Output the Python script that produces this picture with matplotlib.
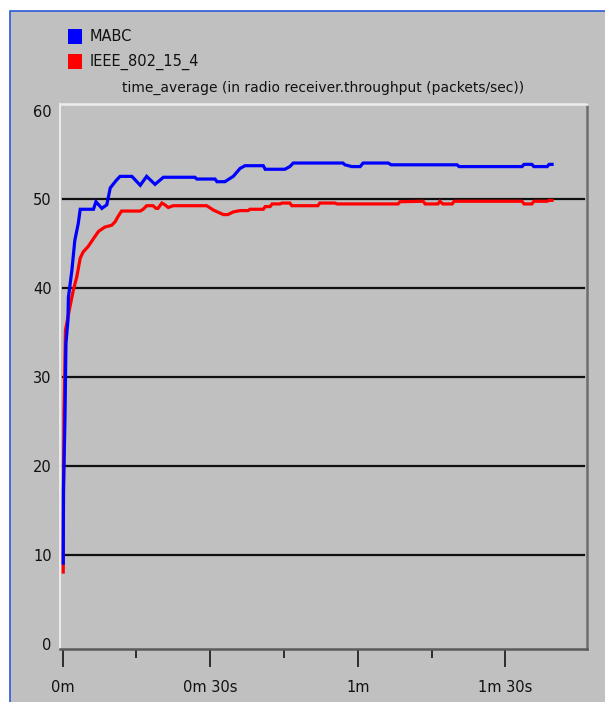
import matplotlib
matplotlib.use("Agg")
import matplotlib.pyplot as plt
from matplotlib.patches import Rectangle

# Time (s) and throughput (packets/sec) for each protocol
mabc_t = [0.15, 0.2, 0.5, 0.7, 1.1, 1.2, 1.9, 2.5, 3.2, 3.6, 6.3, 6.8, 8.0, 9.0,
          9.7, 11.0, 11.7, 14.1, 15.8, 17.1, 18.8, 20.5, 26.9, 27.3, 31.0, 31.4,
          33.0, 34.7, 36.1, 37.1, 40.8, 41.2, 45.2, 46.2, 46.9, 57.0, 57.4, 58.8,
          60.5, 61.1, 66.2, 66.8, 80.2, 80.6, 93.4, 93.8, 95.4, 95.8, 98.5, 98.9,
          99.5]
mabc_v = [9.1, 17.3, 25.5, 33.8, 36.4, 39.0, 42.0, 45.4, 47.3, 48.9, 48.9, 49.75,
          49.0, 49.4, 51.3, 52.2, 52.6, 52.6, 51.6, 52.6, 51.7, 52.5, 52.5, 52.3,
          52.3, 52.0, 52.0, 52.6, 53.5, 53.8, 53.8, 53.4, 53.4, 53.7, 54.1, 54.1,
          53.9, 53.7, 53.7, 54.1, 54.1, 53.9, 53.9, 53.7, 53.7, 53.95, 53.95, 53.7,
          53.7, 53.95, 53.95]

ieee_t = [0.15, 0.2, 0.3, 0.6, 1.5, 2.2, 2.9, 3.6, 4.2, 5.2, 6.3, 7.3, 8.6, 10.0,
          10.7, 11.3, 12.0, 15.8, 16.4, 17.1, 18.4, 19.0, 19.4, 20.2, 20.8, 21.5,
          22.5, 29.3, 30.7, 32.7, 33.6, 34.7, 36.1, 37.7, 38.1, 40.8, 41.2, 42.2,
          42.6, 44.2, 44.6, 46.2, 46.6, 51.9, 52.3, 55.4, 55.8, 68.2, 68.6, 73.3,
          73.7, 76.3, 76.7, 77.3, 79.2, 79.6, 93.4, 93.8, 95.4, 95.8, 98.5, 98.9,
          99.5]
ieee_v = [8.1, 17.0, 26.0, 35.3, 37.9, 39.8, 41.3, 43.4, 44.1, 44.7, 45.6, 46.4,
          46.9, 47.1, 47.5, 48.1, 48.7, 48.7, 48.9, 49.3, 49.3, 49.0, 49.0, 49.6,
          49.4, 49.1, 49.3, 49.3, 48.8, 48.3, 48.3, 48.6, 48.75, 48.75, 48.9, 48.9,
          49.2, 49.2, 49.5, 49.5, 49.6, 49.6, 49.3, 49.3, 49.6, 49.6, 49.5, 49.5,
          49.75, 49.8, 49.5, 49.5, 49.8, 49.5, 49.5, 49.8, 49.8, 49.5, 49.5, 49.8,
          49.8, 49.9, 49.9]

series_names = ["MABC", "IEEE_802_15_4"]
series_colors = ["#0000ff", "#ff0000"]
title_text = "time_average (in radio receiver.throughput (packets/sec))"

y_ticks = [0, 10, 20, 30, 40, 50, 60]
x_major = [0, 30, 60, 90]
x_major_labels = ["0m", "0m 30s", "1m", "1m 30s"]
x_minor = [15, 45, 75]

plt.rcParams["font.family"] = ["DejaVu Sans"]

W, H = 605, 702
fig = plt.figure(figsize=(W / 100, H / 100), dpi=100)
fig.patch.set_facecolor("white")

# window panel with blue frame on the left and top, behind everything else
fig.patches.append(Rectangle((9.5 / W, -0.5), 2.0, (H - 10.5) / H + 0.5,
                             transform=fig.transFigure, facecolor="#c0c0c0",
                             edgecolor="#2a5bd7", linewidth=1.2, zorder=-10))

ax = fig.add_axes([60 / W, (H - 649) / H, 526.5 / W, 545 / H])
ax.set_zorder(1)
ax.set_facecolor("#c0c0c0")
ax.set_xlim(-0.51, 106.5)
ax.set_ylim(-0.56, 60.74)

for y in y_ticks[1:-1]:
    ax.axhline(y, xmin=0.005, xmax=0.995, color="#101010", lw=1.6, zorder=1)

ax.plot(ieee_t, ieee_v, color=series_colors[1], lw=2.3, zorder=3,
        solid_joinstyle="miter")
ax.plot(mabc_t, mabc_v, color=series_colors[0], lw=2.3, zorder=4,
        solid_joinstyle="miter")

ax.spines["left"].set_color("#f4f4f4")
ax.spines["left"].set_linewidth(1.2)
ax.spines["top"].set_color("#ececec")
ax.spines["top"].set_linewidth(1.8)
ax.spines["right"].set_color("#6e6e6e")
ax.spines["right"].set_linewidth(1.8)
ax.spines["bottom"].set_color("#5a5a5a")
ax.spines["bottom"].set_linewidth(1.8)

ax.set_yticks(y_ticks)
ax.set_yticklabels([str(v) for v in y_ticks])
ax.tick_params(axis="y", length=0, pad=6, labelsize=10.5, labelcolor="#111111")

ax.set_xticks(x_major)
ax.set_xticklabels(x_major_labels)
ax.set_xticks(x_minor, minor=True)
ax.tick_params(axis="x", which="major", direction="out", length=13, width=1.3,
               color="#222222", pad=9, labelsize=10.5, labelcolor="#111111")
ax.tick_params(axis="x", which="minor", direction="out", length=6.5, width=1.3,
               color="#222222")

# legend block
for i, (name, col) in enumerate(zip(series_names, series_colors)):
    top = 29 + 25 * i
    fig.patches.append(Rectangle((68 / W, (H - top - 15) / H), 14 / W, 15 / H,
                                 transform=fig.transFigure, facecolor=col,
                                 edgecolor="none", zorder=5))
    fig.text(90 / W, (H - top - 7.5) / H, name, ha="left", va="center",
             fontsize=10.5, color="#111111")
fig.text(122 / W, (H - 88) / H, title_text, ha="left", va="center",
         fontsize=10, color="#111111")

fig.savefig("out.png", dpi=100, facecolor=fig.get_facecolor())
